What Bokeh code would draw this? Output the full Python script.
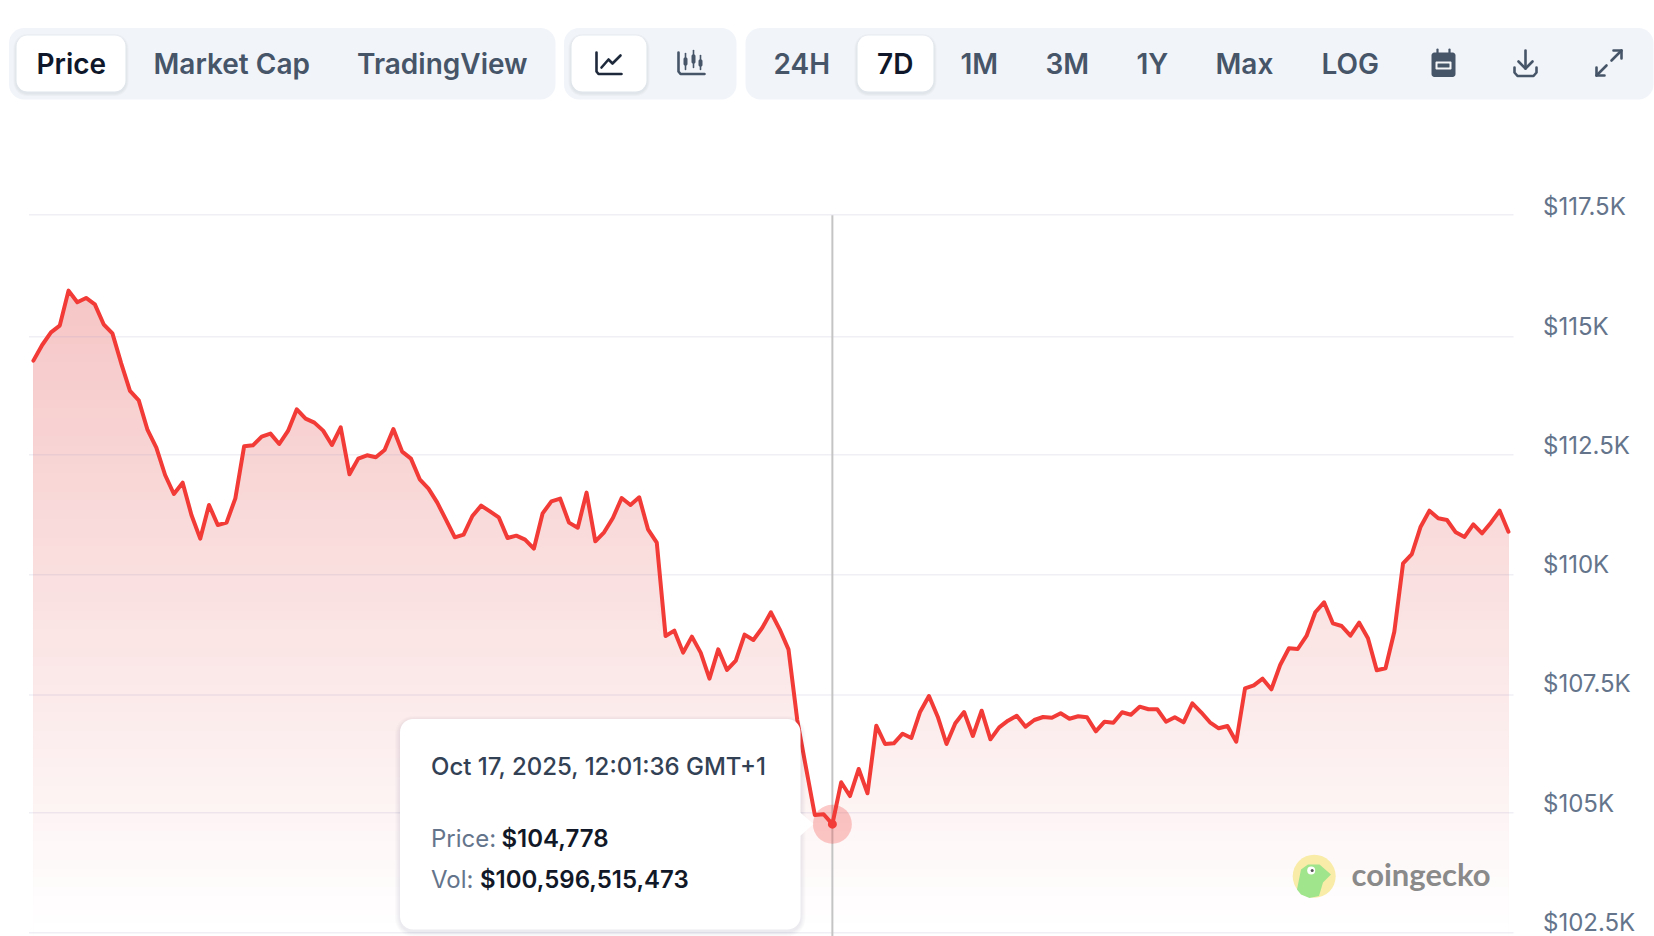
import math
from bokeh.plotting import figure
from bokeh.core.properties import value
from bokeh.models import Range1d, ColumnDataSource
from bokeh.embed import file_html
from bokeh.resources import INLINE

prices = [
    114498, 114826, 115092, 115232, 115966, 115721, 115812, 115679, 115260, 115071,
    114442, 113862, 113666, 113044, 112673, 112100, 111702, 111939, 111261, 110765,
    111471, 111052, 111101, 111611, 112701, 112722, 112904, 112967, 112750, 113023,
    113477, 113281, 113198, 113030, 112729, 113100, 112114, 112443, 112513, 112471,
    112624, 113065, 112590, 112443, 112009, 111814, 111520, 111157, 110793, 110849,
    111240, 111457, 111338, 111213, 110779, 110828, 110744, 110555, 111296, 111548,
    111604, 111101, 110996, 111730, 110709, 110898, 111199, 111618, 111471, 111632,
    110961, 110681, 108724, 108836, 108375, 108710, 108375, 107829, 108444, 108011,
    108207, 108752, 108640, 108892, 109220, 108864, 108444, 106962, 105956, 104970,
    104985, 104778, 105656, 105368, 105935, 105425, 106843, 106459, 106474, 106675,
    106585, 107136, 107465, 107031, 106459, 106893, 107130, 106627, 107157, 106557,
    106809, 106948, 107052, 106822, 106962, 107025, 107010, 107103, 106989, 107040,
    107019, 106725, 106927, 106906, 107124, 107073, 107241, 107187, 107187, 106927,
    107019, 106914, 107312, 107124, 106914, 106788, 106836, 106507, 107627, 107690,
    107828, 107606, 108116, 108466, 108451, 108724, 109221, 109430, 108990, 108933,
    108730, 109003, 108675, 108004, 108046, 108814, 110248, 110443, 111016, 111351,
    111192, 111156, 110898, 110800, 111066, 110877, 111100, 111351, 110911,
]
y_ticks = [102500, 105000, 107500, 110000, 112500, 115000, 117500]
y_tick_labels = ["$102.5K", "$105K", "$107.5K", "$110K", "$112.5K", "$115K", "$117.5K"]
hover_index = 91
tooltip_date = "Oct 17, 2025, 12:01:36 GMT+1"
tooltip_price = "$104,778"
tooltip_volume = "$100,596,515,473"
tabs = ["Price", "Market Cap", "TradingView"]
periods = ["24H", "7D", "1M", "3M", "1Y", "Max", "LOG"]

hours = list(range(len(prices)))

FONT = "Inter"
SEMI = "Inter SemiBold"
MEDIUM = "Inter Medium"
PANEL = "#f1f4f9"
ACTIVE = "#0f172a"
MUTED = "#475569"
AXIS_TEXT = "#64748b"
RED = "#f23b36"

# window pixels covered by the figure
WIDTH, HEIGHT = 1654, 936
XPER = 8.78
YPER = 20.97


def xval(px):
    return (px - 32.9) / XPER


def yval(px):
    return 115000 - (px - 336.2) * YPER


p = figure(width=WIDTH, height=HEIGHT, output_backend="svg", toolbar_location=None,
           x_axis_location=None, y_axis_location=None, min_border=0,
           x_range=Range1d(xval(0), xval(WIDTH)),
           y_range=Range1d(yval(HEIGHT), yval(0)),
           background_fill_color="white", border_fill_color="white", outline_line_color=None)
p.grid.visible = False
p.extra_x_ranges["px"] = Range1d(1, WIDTH + 1)
p.extra_y_ranges["px"] = Range1d(HEIGHT + 1, 1)
PX = dict(x_range_name="px", y_range_name="px")

# ---- gradient area: opaque layers painted from the top level downwards
base = y_ticks[0]
top_level = 116000
n_layers = 70
for k in range(n_layers):
    frac = k / (n_layers - 1)
    level = top_level - (top_level - base) * k / n_layers
    g = round(198 + (255 - 198) * frac)
    r = round(246 + (255 - 246) * frac)
    color = f"#{r:02x}{g:02x}{g:02x}"
    clipped = [min(v, level) for v in prices]
    src = ColumnDataSource(dict(x=hours, y1=[base - 100] * len(hours), y2=clipped))
    p.varea(x="x", y1="y1", y2="y2", source=src, fill_color=color)

# ---- grid lines over the area
grid_rows = [933.2, 813.2, 695.5, 575.2, 455.2, 337.2, 215.2]
p.segment(x0=[29.5] * 7, x1=[1514] * 7, y0=grid_rows, y1=grid_rows,
          line_color="#9696be", line_alpha=0.15, line_width=1.6, **PX)

# ---- crosshair
p.segment(x0=[hover_index], x1=[hover_index], y0=[yval(214.7)], y1=[p.y_range.start],
          line_color="#c4c4c4", line_width=2)

# ---- price line
p.line(hours, prices, line_color=RED, line_width=4, line_join="round", line_cap="round")

# ---- hover marker
p.scatter([hover_index], [prices[hover_index]], size=39, marker="circle",
          fill_color=RED, fill_alpha=0.27, line_color=None)
p.scatter([hover_index], [prices[hover_index]], size=9, marker="circle",
          fill_color=RED, line_color=None)

# ---- y axis labels
p.text([1543.5] * len(y_ticks), y_ticks, text=y_tick_labels, x_range_name="px",
       y_offset=-10.5, text_color=AXIS_TEXT, text_font=value(FONT), text_font_size="24px",
       text_align="left", text_baseline="middle")


# ---- chrome helpers (in page pixels)
def rr(x0, y0, x1, y1, r):
    xs, ys = [], []
    for cx, cy, a0 in ((x1 - r, y0 + r, -90), (x1 - r, y1 - r, 0), (x0 + r, y1 - r, 90), (x0 + r, y0 + r, 180)):
        for s in range(9):
            a = math.radians(a0 + s * 90 / 8)
            xs.append(cx + r * math.cos(a))
            ys.append(cy + r * math.sin(a))
    return xs, ys


def box(x0, y0, x1, y1, r, color, alpha=1.0):
    xs, ys = rr(x0, y0, x1, y1, r)
    p.patch(xs, ys, fill_color=color, fill_alpha=alpha, line_color=None, **PX)


def shadow(x0, y0, x1, y1, r, spread, dy, alpha):
    for s in range(spread, 0, -1):
        box(x0 - s, y0 - s + dy, x1 + s, y1 + s + dy, r + s, "#0f172a", alpha)


def text(x, y, t, color, size, style="normal", align="left", font=FONT):
    p.text([x], [y], text=[t], text_color=color, text_font=value(font), text_font_size=f"{size}px",
           text_font_style=style, text_align=align, text_baseline="middle", **PX)


def stroke(pts, color, w=2.6):
    p.line([a for a, _ in pts], [b for _, b in pts], line_color=color, line_width=w,
           line_join="round", line_cap="round", **PX)


# ---- toolbar panels
box(9.5, 28.5, 556, 100, 15, PANEL)
box(564.5, 28.5, 737, 100, 15, PANEL)
box(746, 28.5, 1654, 100, 15, PANEL)
for x0, x1 in ((17, 126), (572, 647), (858, 934)):
    shadow(x0, 36, x1, 92, 11, 3, 1.5, 0.022)
    box(x0, 36, x1, 92, 11, "white")

for label, x in zip(tabs, (37, 154, 357.5)):
    text(x, 64, label, ACTIVE if label == "Price" else MUTED, 28, font=SEMI)
for label, x in zip(periods, (774, 877.5, 961, 1046, 1137, 1216, 1322)):
    text(x, 64, label, ACTIVE if label == "7D" else MUTED, 28, font=SEMI)

# line-chart icon
stroke([(597, 53), (597, 72), (599, 74.5), (622, 74.5)], "#1e293b")
stroke([(602, 68), (609, 60), (613, 64), (621, 56)], "#1e293b")
# candle icon
stroke([(679, 53), (679, 72), (681, 74.5), (705, 74.5)], MUTED)
for cx, y0, y1, b0, b1 in ((686, 54, 70, 58, 66), (694, 51, 68, 55, 64), (701, 56, 70, 60, 67)):
    stroke([(cx, y0), (cx, y1)], MUTED, 1.6)
    box(cx - 2, b0, cx + 2, b1, 1.5, MUTED)
# calendar icon
box(1432, 53, 1456, 77.5, 3, MUTED)
box(1436, 62, 1452, 70, 1, "white", 0.95)
box(1438, 64, 1450, 68, 0.5, MUTED)
stroke([(1438, 50), (1438, 55)], MUTED, 2.2)
stroke([(1450, 50), (1450, 55)], MUTED, 2.2)
# download icon
stroke([(1526, 51), (1526, 69)], MUTED)
stroke([(1519, 62), (1526, 69), (1533, 62)], MUTED)
stroke([(1515, 68), (1515, 73), (1518, 76.5), (1534, 76.5), (1537, 73), (1537, 68)], MUTED)
# expand icon
stroke([(1597, 76), (1607, 66)], MUTED)
stroke([(1597, 68), (1597, 76), (1605, 76)], MUTED)
stroke([(1612, 61), (1622, 51)], MUTED)
stroke([(1614, 51), (1622, 51), (1622, 59)], MUTED)

# ---- tooltip
tx0, ty0, tx1, ty1 = 400.5, 719.5, 801, 930
shadow(tx0, ty0, tx1, ty1, 13, 5, 2, 0.016)
p.patch([tx1 - 1, 814, tx1 - 1], [812.5, 824.5, 837], fill_color="white", line_color=None, **PX)
box(tx0, ty0, tx1, ty1, 13, "white")
text(431.5, 767, tooltip_date, "#334155", 24, font=MEDIUM)
text(431.5, 839, "Price:", AXIS_TEXT, 24)
text(502, 839, tooltip_price, "#111827", 24, font=SEMI)
text(431.5, 879.5, "Vol:", AXIS_TEXT, 24)
text(480.5, 879.5, tooltip_volume, "#111827", 24, font=SEMI)

# ---- watermark
p.scatter([1314.7], [876.7], size=43, marker="circle", fill_color="#f9eca8", line_color=None, **PX)
p.patch([1297.5, 1301.5, 1308.5, 1320, 1331.5, 1323.5, 1319.5, 1310, 1301.5],
        [890, 870, 865, 865, 875, 883, 896.5, 898.5, 895],
        fill_color="#a0e48c", line_color=None, **PX)
p.scatter([1311.7], [871], size=8, marker="circle", fill_color="white", line_color=None, **PX)
p.scatter([1312.7], [871], size=3, marker="circle", fill_color="#555555", line_color=None, **PX)
text(1352, 874.5, "coingecko", "#8a8a8a", 31, "bold", font="Lato")

open("out.html", "w").write(file_html(p, INLINE))
